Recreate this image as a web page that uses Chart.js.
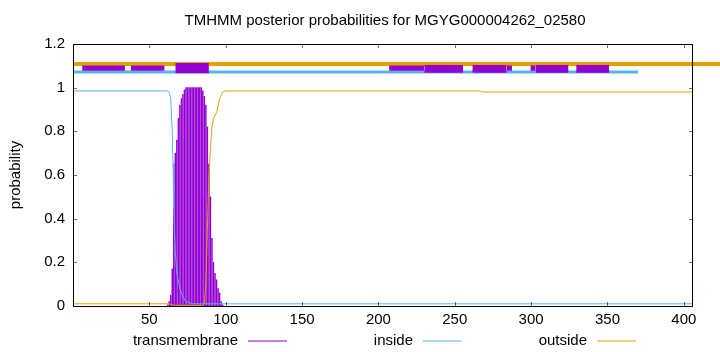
<!DOCTYPE html>
<html>
<head>
<meta charset="utf-8">
<script src="https://cdn.jsdelivr.net/npm/chart.js@4/dist/chart.umd.min.js"></script>
<style>
  html, body { margin: 0; padding: 0; background: #fff; }
  #wrap { width: 720px; height: 352px; }
</style>
</head>
<body>
<div id="wrap"><canvas id="chart" width="720" height="352"></canvas></div>
<script>
const xTicks = [50, 100, 150, 200, 250, 300, 350, 400];

// per-residue transmembrane posterior (drawn as impulses)
const tmPos = [62, 63, 64, 65, 66, 67, 68, 69, 70, 71, 72, 73, 74, 75, 76, 77, 78, 79, 80,
  81, 82, 83, 84, 85, 86, 87, 88, 89, 90, 91, 92, 93, 94, 95, 96, 97, 98];
const tmProb = [0.005, 0.02, 0.05, 0.17, 0.65, 0.70, 0.76, 0.86, 0.92, 0.95, 0.97, 0.99, 1.0, 1.0, 1.0, 1.0, 1.0, 1.0, 1.0,
  1.0, 1.0, 1.0, 1.0, 0.985, 0.96, 0.92, 0.82, 0.65, 0.5, 0.31, 0.2, 0.15, 0.12, 0.08, 0.06, 0.02, 0.005];

const insidePos = [0, 62, 63, 64, 65, 65.5, 66, 67, 68, 70, 72, 74, 78, 406];
const insideProb = [0.985, 0.985, 0.98, 0.95, 0.8, 0.65, 0.45, 0.25, 0.15, 0.08, 0.04, 0.02, 0.01, 0.01];

const outsidePos = [0, 63, 66, 85, 86, 87, 88, 89, 90, 91, 92, 94, 96, 98, 100, 267, 268, 406];
const outsideProb = [0.01, 0.01, 0.003, 0.003, 0.01, 0.1, 0.35, 0.59, 0.72, 0.82, 0.86, 0.885, 0.95, 0.98, 0.985, 0.985, 0.98, 0.98];

// top feature bars
const outsideBar = [0, 460];
const outsideBarY = 1.108;
const insideBar = [0, 370];
const insideBarY = 1.072;
const smallBoxes = [[6, 34], [38, 60], [207, 230], [284, 287.5], [299.5, 303]];
const smallBoxY = [1.078, 1.101];
const bigBoxes = [[230, 255.5], [261.5, 284], [303, 324.5], [329.5, 351]];
const bigBoxY = [1.0685, 1.104];
const tmBoxes = [[67, 89]];
const tmBoxY = [1.066, 1.113];

const PURPLE = '#9400d3', BLUE = '#56b4e9', ORANGE = '#e69f00';
const FONT = '"Liberation Sans", Arial, sans-serif';

function toPts(xs, ys) {
  return xs.map((x, i) => ({ x: x, y: ys[i] }));
}

function boxSets(list, range) {
  return list.map(b => ({
    type: 'line',
    data: [{ x: b[0], y: range[1] }, { x: b[1], y: range[1] }],
    fill: { value: range[0] },
    backgroundColor: PURPLE,
    borderColor: PURPLE,
    borderWidth: 0,
    pointRadius: 0,
    order: 0
  }));
}

const gnuFrame = {
  id: 'gnuFrame',
  afterDraw(chart) {
    const ctx = chart.ctx;
    const a = chart.chartArea;
    const xs = chart.scales.x, ys = chart.scales.y;
    ctx.save();
    ctx.lineWidth = 1;
    ctx.strokeStyle = 'rgba(0,0,0,0.55)';
    ctx.beginPath();
    xTicks.forEach(v => {
      const px = Math.round(xs.getPixelForValue(v)) + 0.5;
      ctx.moveTo(px, a.bottom); ctx.lineTo(px, a.bottom - 4);
      ctx.moveTo(px, a.top); ctx.lineTo(px, a.top + 4);
    });
    ys.ticks.forEach(t => {
      const py = Math.round(ys.getPixelForValue(t.value)) + 0.5;
      ctx.moveTo(a.left, py); ctx.lineTo(a.left + 4, py);
      ctx.moveTo(a.right, py); ctx.lineTo(a.right - 4, py);
    });
    ctx.stroke();
    ctx.strokeStyle = '#000';
    ctx.beginPath();
    ctx.rect(a.left + 0.5, a.top + 0.5, a.right - a.left - 1, a.bottom - a.top);
    ctx.stroke();

    ctx.fillStyle = '#000';
    ctx.font = '15px ' + FONT;
    ctx.textAlign = 'center';
    ctx.textBaseline = 'middle';
    ctx.fillText('TMHMM posterior probabilities for MGYG000004262_02580', 385, 21);

    const legend = [['transmembrane', PURPLE, 238], ['inside', BLUE, 413], ['outside', ORANGE, 587]];
    ctx.textAlign = 'right';
    legend.forEach(l => {
      ctx.fillStyle = '#000';
      ctx.fillText(l[0], l[2], 341);
      ctx.strokeStyle = l[1];
      ctx.beginPath();
      ctx.moveTo(l[2] + 10, 341);
      ctx.lineTo(l[2] + 49, 341);
      ctx.stroke();
    });
    ctx.restore();
  }
};

const datasets = [].concat(
  boxSets(tmBoxes, tmBoxY),
  boxSets(bigBoxes, bigBoxY),
  boxSets(smallBoxes, smallBoxY),
  [{
    type: 'line',
    data: [{ x: outsideBar[0], y: outsideBarY }, { x: outsideBar[1], y: outsideBarY }],
    borderColor: ORANGE, borderWidth: 4, pointRadius: 0, clip: false, order: 1
  }, {
    type: 'line',
    data: [{ x: insideBar[0], y: insideBarY }, { x: insideBar[1], y: insideBarY }],
    borderColor: BLUE, borderWidth: 3, pointRadius: 0, order: 1
  }, {
    type: 'line', label: 'outside',
    data: toPts(outsidePos, outsideProb),
    borderColor: ORANGE, borderWidth: 1, pointRadius: 0, order: 2
  }, {
    type: 'line', label: 'inside',
    data: toPts(insidePos, insideProb),
    borderColor: BLUE, borderWidth: 1, pointRadius: 0, order: 3
  }, {
    type: 'bar', label: 'transmembrane',
    data: toPts(tmPos, tmProb),
    backgroundColor: PURPLE, borderWidth: 0, barThickness: 0.8, order: 4
  }]
);

new Chart(document.getElementById('chart').getContext('2d'), {
  type: 'line',
  data: { datasets: datasets },
  plugins: [gnuFrame],
  options: {
    responsive: false,
    animation: false,
    devicePixelRatio: 1,
    layout: { padding: { top: 44, right: 27, left: 0, bottom: 0 } },
    plugins: { legend: { display: false }, tooltip: { enabled: false }, title: { display: false } },
    scales: {
      x: {
        type: 'linear', min: 0, max: 406, offset: false,
        grid: { display: false, drawTicks: false, offset: false },
        border: { display: false },
        afterFit: s => { s.height = 46; },
        afterBuildTicks: s => { s.ticks = xTicks.map(v => ({ value: v })); },
        ticks: { padding: 5, color: '#000', font: { size: 15, family: FONT }, maxRotation: 0, autoSkip: false }
      },
      y: {
        type: 'linear', min: 0, max: 1.2,
        grid: { display: false, drawTicks: false },
        border: { display: false },
        afterFit: s => { s.width = 73; },
        ticks: {
          stepSize: 0.2, padding: 8, color: '#000', font: { size: 15, family: FONT },
          callback: v => String(Math.round(v * 10) / 10)
        },
        title: { display: true, text: 'probability', color: '#000', font: { size: 15, family: FONT }, padding: { top: 7, bottom: 0 } }
      }
    }
  }
});
</script>
</body>
</html>
